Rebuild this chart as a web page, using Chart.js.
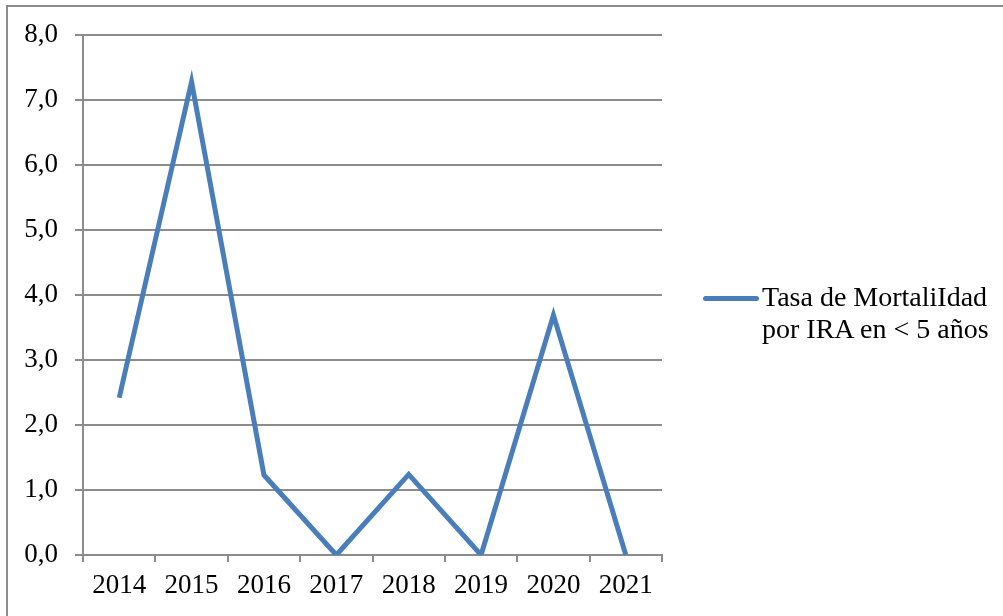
<!DOCTYPE html>
<html>
<head>
<meta charset="utf-8">
<script src="https://cdn.jsdelivr.net/npm/chart.js@4/dist/chart.umd.min.js"></script>
<style>
html,body{margin:0;padding:0;background:#fff;overflow:hidden;}
#wrap{position:relative;width:1003px;height:616px;overflow:hidden;}
#frame{position:absolute;left:6px;top:5px;width:1200px;height:800px;border-left:2px solid #8c8c8c;border-top:2px solid #8c8c8c;box-sizing:border-box;}
canvas{position:absolute;left:0;top:0;}
#legend{position:absolute;left:703px;top:281px;font-family:"Liberation Serif",serif;font-size:28px;line-height:32px;color:#000;}
#legend .ln{position:absolute;left:0;top:15px;width:56px;height:5px;border-radius:3px;background:#4a7ebb;}
#legend .tx{position:absolute;left:59px;top:0;white-space:nowrap;}
</style>
</head>
<body>
<div id="wrap">
<div id="frame"></div>
<canvas id="c" width="1003" height="616"></canvas>
<div id="legend"><div class="ln"></div><div class="tx" id="legtext"></div></div>
</div>
<script>
const categories = ["2014","2015","2016","2017","2018","2019","2020","2021"];
const seriesName = ["Tasa de MortaliIdad", "por IRA en < 5 años"];
const values = [2.42, 7.28, 1.23, 0, 1.24, 0, 3.69, 0];
const yTicks = [0,1,2,3,4,5,6,7,8];

document.getElementById('legtext').innerHTML = seriesName.map(s => s.replace(/&/g,'&amp;').replace(/</g,'&lt;')).join('<br>');

const grey = '#8c8c8c';
const font = {family: '"Liberation Serif", serif', size: 27};

new Chart(document.getElementById('c'), {
  type: 'line',
  data: {
    labels: categories,
    datasets: [{
      label: seriesName.join(' '),
      data: values,
      borderColor: '#4a7ebb',
      borderWidth: 5,
      pointRadius: 0,
      pointHoverRadius: 0,
      tension: 0,
      fill: false,
      borderJoinStyle: 'miter'
    }]
  },
  options: {
    responsive: false,
    animation: false,
    devicePixelRatio: 1,
    layout: {padding: {left: 0, top: 35, right: 341, bottom: 0}},
    plugins: {legend: {display: false}, tooltip: {enabled: false}},
    scales: {
      x: {
        type: 'category',
        offset: true,
        grid: {offset: true, drawOnChartArea: false, drawTicks: true, tickLength: 7, color: grey, lineWidth: 2},
        border: {display: true, color: grey, width: 2},
        ticks: {color: '#000', font: font, padding: 8, maxRotation: 0, autoSkip: false},
        afterFit: s => { s.height = 61; }
      },
      y: {
        min: 0, max: 8,
        afterBuildTicks: s => { s.ticks = yTicks.map(v => ({value: v})); },
        grid: {color: grey, lineWidth: 2, tickLength: 8, drawTicks: true},
        border: {display: true, color: grey, width: 2},
        ticks: {color: '#000', font: font, padding: 17,
          callback: v => Number(v).toFixed(1).replace('.', ',')},
        afterFit: s => { s.width = 83; }
      }
    }
  }
});
</script>
</body>
</html>
